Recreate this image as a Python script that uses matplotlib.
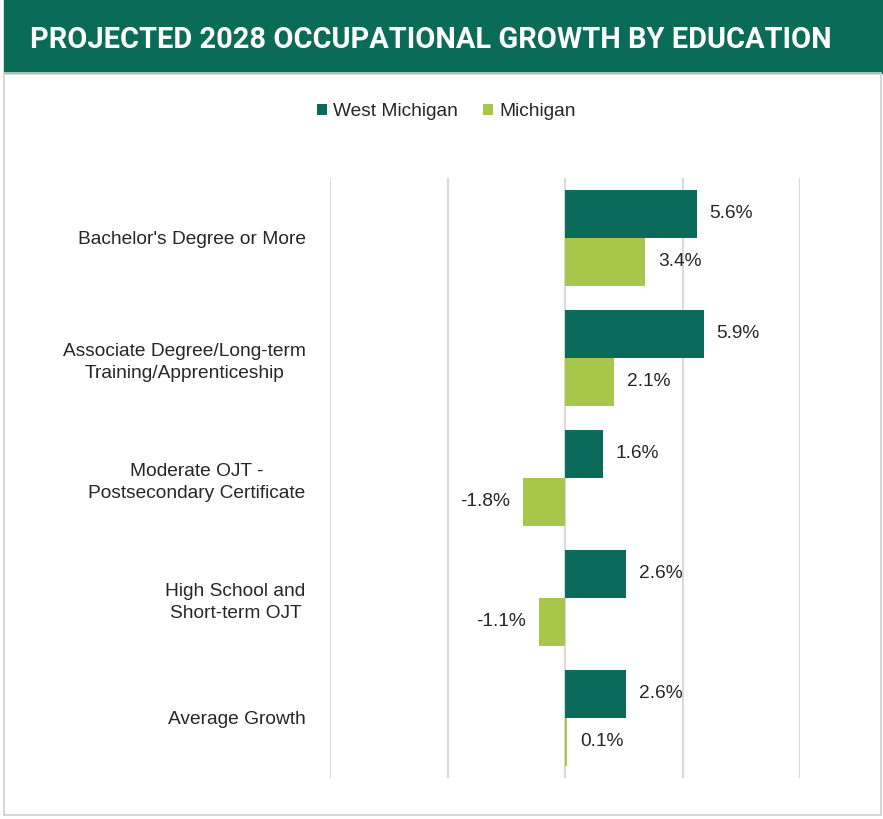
import numpy as np
import matplotlib.pyplot as plt
from matplotlib.patches import Rectangle

plt.rcParams['font.family'] = ['Liberation Sans', 'DejaVu Sans']

# === data ===
categories = ["Bachelor's Degree or More",
              "Associate Degree/Long-term\nTraining/Apprenticeship",
              "Moderate OJT -\nPostsecondary Certificate",
              "High School and\nShort-term OJT",
              "Average Growth"]
west_michigan = [5.6, 5.9, 1.6, 2.6, 2.6]
michigan = [3.4, 2.1, -1.8, -1.1, 0.1]
series_names = ["West Michigan", "Michigan"]

dark_green = "#0b6b5b"
light_green = "#a8c74a"
grid_gray = "#d9d9d9"
text_col = "#262626"

W, H = 883, 819
fig = plt.figure(figsize=(W / 100, H / 100), dpi=100)

# banner + frame
fig.patches.append(Rectangle((4 / W, 1 - 73 / H), 879 / W, 73 / H,
                             transform=fig.transFigure, color="#0a6b58", zorder=0))
fig.patches.append(Rectangle((4 / W, 1 - 815 / H), 877 / W, (815 - 73) / H,
                             transform=fig.transFigure, fill=False,
                             edgecolor="#d0d0d0", lw=1.2, zorder=0))
fig.text(30 / W, 1 - 40 / H, "PROJECTED 2028 OCCUPATIONAL GROWTH BY EDUCATION",
         color="white", fontsize=20.9, fontweight="bold", va="center", ha="left",
         family=["Roboto", "DejaVu Sans"])

ax = fig.add_axes([330 / W, 1 - 778 / H, 470 / W, 600 / H])
y = np.arange(len(categories))
h = 0.4
ax.barh(y - h / 2, west_michigan, height=h, color=dark_green, label=series_names[0], zorder=3)
ax.barh(y + h / 2, michigan, height=h, color=light_green, label=series_names[1], zorder=3)

for yy, vals in ((y - h / 2, west_michigan), (y + h / 2, michigan)):
    for yi, v in zip(yy, vals):
        off = 0.55 if v >= 0 else -0.55
        ax.text(v + off, yi, f"{v:.1f}%", ha="left" if v >= 0 else "right",
                va="center", fontsize=13.8, color=text_col)

ax.set_xlim(-10, 10)
ax.set_ylim(len(categories) - 0.5, -0.5)
ax.set_xticks([-10, -5, 0, 5, 10])
ax.xaxis.grid(True, color=grid_gray, lw=1.5, zorder=0)
ax.tick_params(axis="x", bottom=False, labelbottom=False)
ax.set_yticks(y)
ax.set_yticklabels(categories, fontsize=13.8, color=text_col, multialignment="center",
                   linespacing=1.4)
ax.tick_params(axis="y", left=False, pad=14)
for s in ax.spines.values():
    s.set_visible(False)

fig.legend(loc="center", bbox_to_anchor=(446 / W, 1 - 112 / H), ncol=2, frameon=False,
           fontsize=13.8, handlelength=0.55, handleheight=0.55, handletextpad=0.3,
           columnspacing=1.3, labelcolor=text_col)

fig.savefig("out.png", dpi=100, facecolor="white")
